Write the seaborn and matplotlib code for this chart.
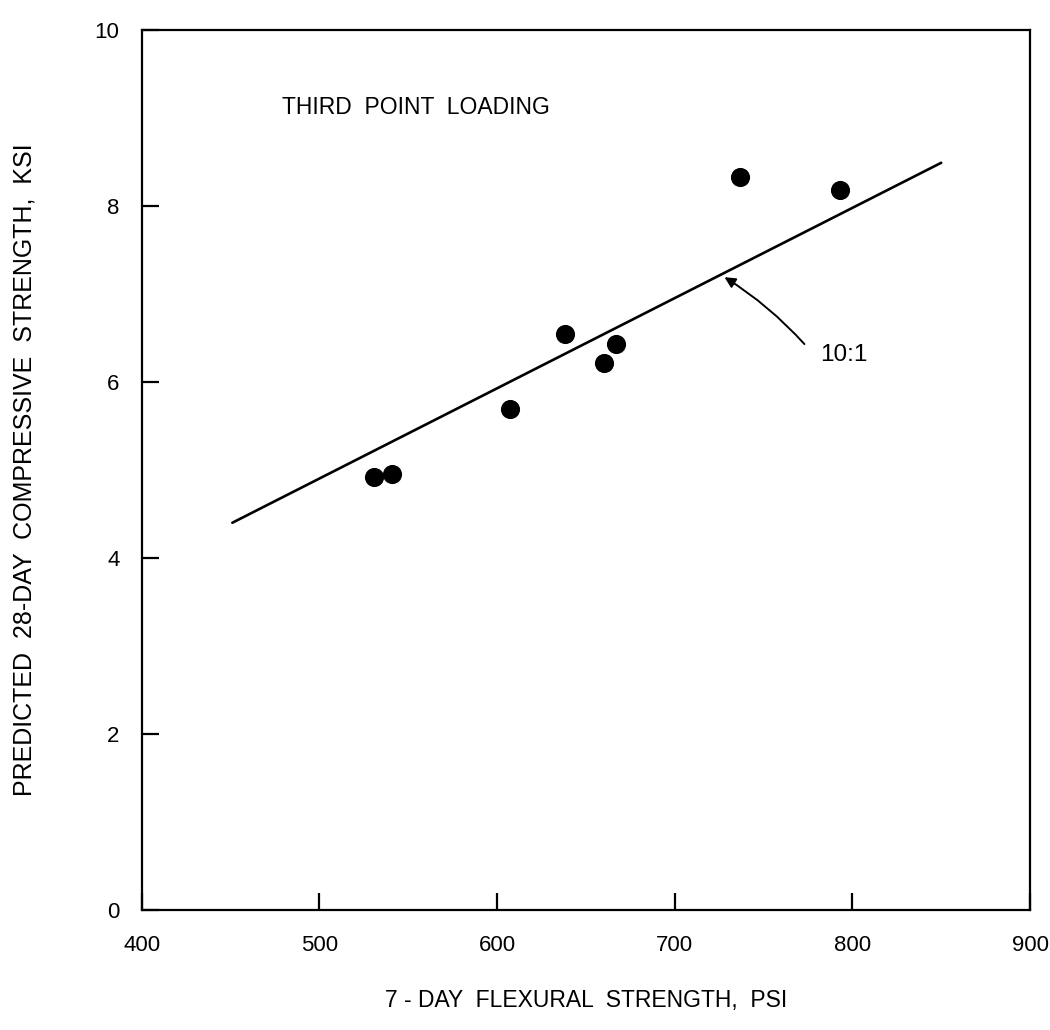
import matplotlib
matplotlib.use("Agg")
import matplotlib.pyplot as plt
import seaborn as sns
import pandas as pd

# Data
flexural_psi = [531, 541, 607, 638, 660, 667, 737, 793]
compressive_ksi = [4.92, 4.95, 5.69, 6.55, 6.21, 6.43, 8.33, 8.18]

line_x = [451, 850]
line_y = [4.40, 8.49]

x_ticks = [400, 500, 600, 700, 800, 900]
y_ticks = [0, 2, 4, 6, 8, 10]

sns.set_theme(style="white")
plt.rcParams["font.family"] = ["Liberation Sans", "DejaVu Sans"]
plt.rcParams["text.color"] = "black"
plt.rcParams["axes.labelcolor"] = "black"
plt.rcParams["xtick.color"] = "black"
plt.rcParams["ytick.color"] = "black"

fig = plt.figure(figsize=(10.5, 10.3), dpi=100)
ax = fig.add_axes([0.135, 0.1165, 0.846, 0.8545])

pts = pd.DataFrame({"x": flexural_psi, "y": compressive_ksi})
ln = pd.DataFrame({"x": line_x, "y": line_y})

sns.lineplot(data=ln, x="x", y="y", ax=ax, color="black", linewidth=1.9)
sns.scatterplot(data=pts, x="x", y="y", ax=ax, color="black", s=190,
                edgecolor="black", linewidth=0, zorder=3)

ax.set_xlim(400, 900)
ax.set_ylim(0, 10)
ax.set_xticks(x_ticks)
ax.set_yticks(y_ticks)
ax.set_xticklabels([str(v) for v in x_ticks])
ax.set_yticklabels([str(v) for v in y_ticks])

for sp in ax.spines.values():
    sp.set_visible(True)
    sp.set_color("black")
    sp.set_linewidth(1.6)

ax.tick_params(axis="both", direction="in", length=12, width=1.6, colors="black",
               labelsize=16)
ax.tick_params(axis="x", pad=18, top=False, bottom=True)
ax.tick_params(axis="y", pad=16, left=True, right=False)

ax.set_xlabel("7 - DAY  FLEXURAL  STRENGTH,  PSI", fontsize=16.5, labelpad=24)
ax.set_ylabel("PREDICTED  28-DAY  COMPRESSIVE  STRENGTH,  KSI", fontsize=18, labelpad=42)

ax.text(479, 9.12, "THIRD  POINT  LOADING", fontsize=16.5, ha="left", va="center")

ax.text(782, 6.31, "10:1", fontsize=17.5, ha="left", va="center")
ax.annotate("", xy=(728, 7.19), xytext=(773, 6.43),
            arrowprops=dict(arrowstyle="-|>", color="black", lw=1.4,
                            shrinkA=0, shrinkB=0, mutation_scale=16,
                            connectionstyle="arc3,rad=0.07"))

fig.savefig("out.png", dpi=100, facecolor="white")
